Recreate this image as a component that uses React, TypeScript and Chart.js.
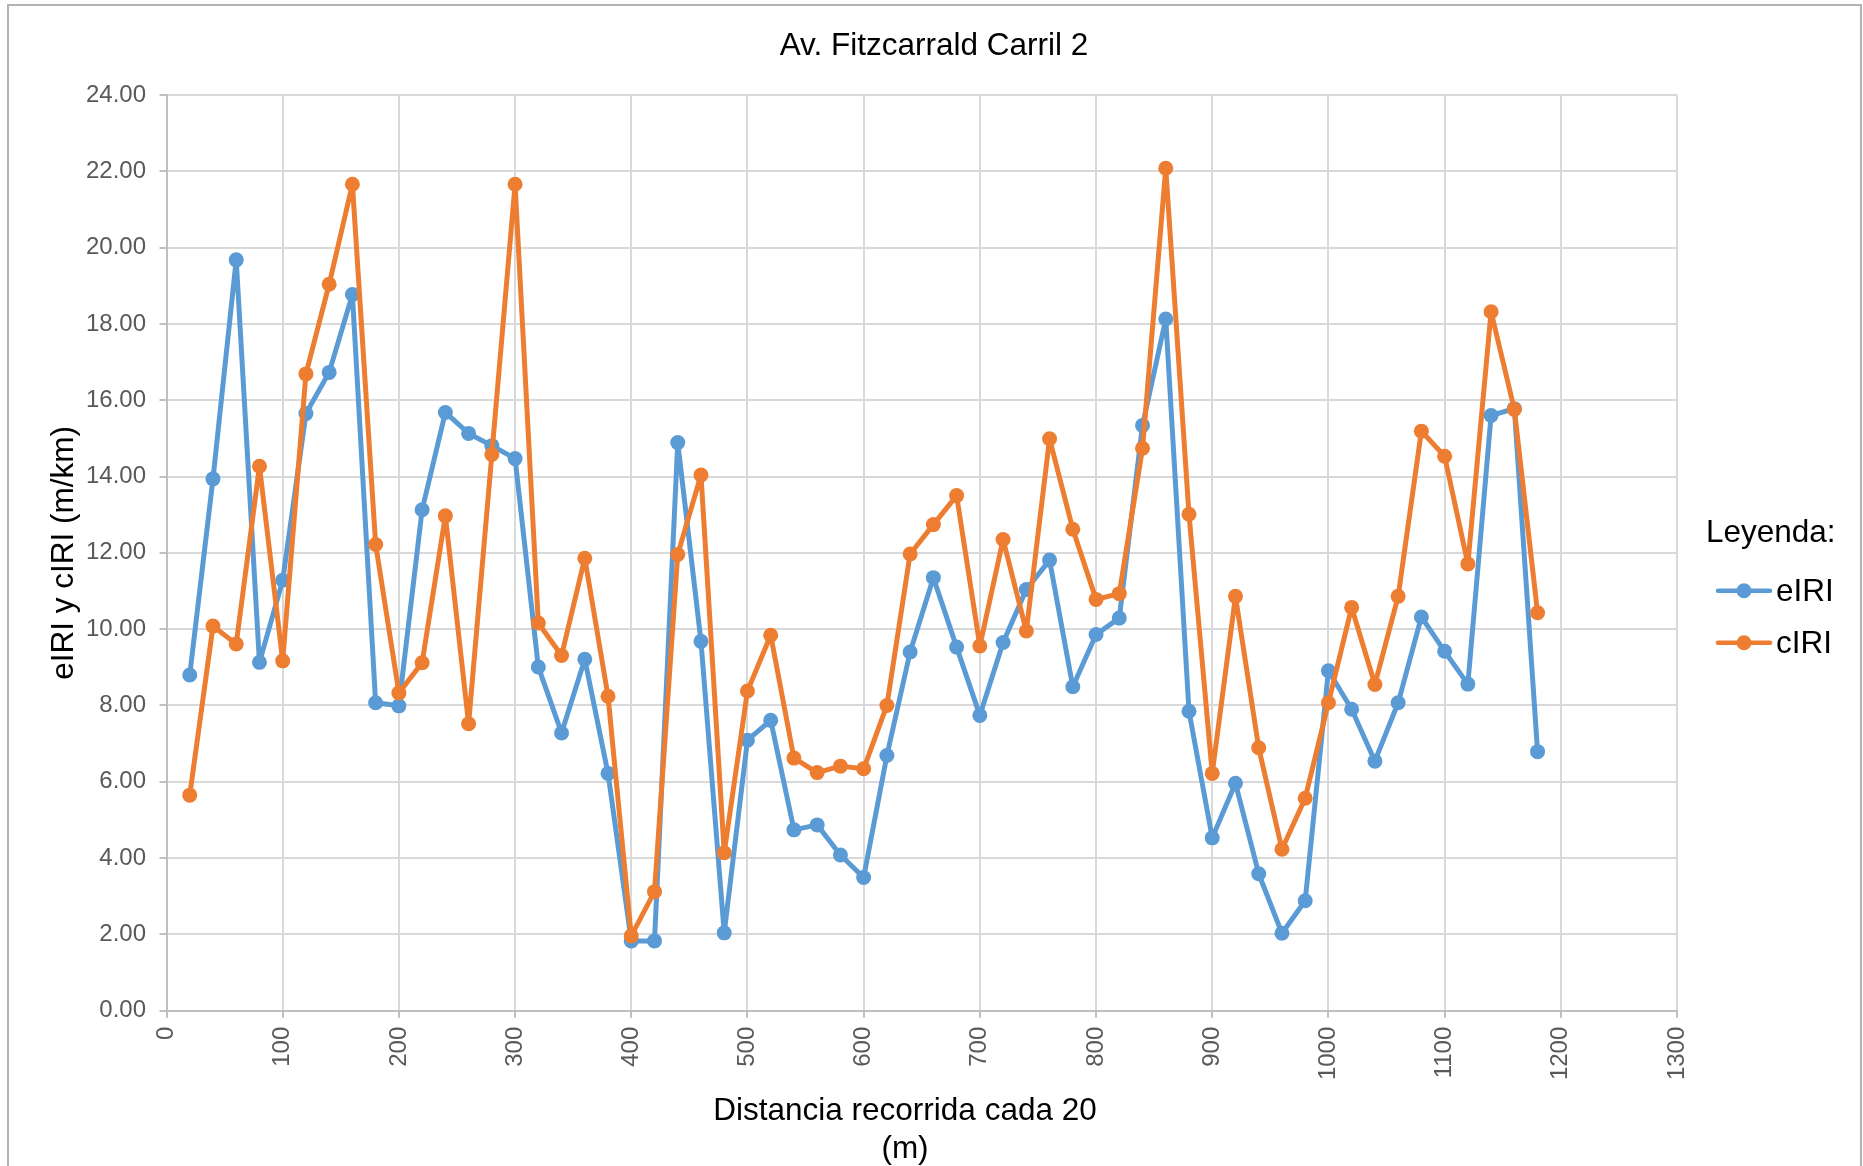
import { useEffect, useRef } from "react";
import { Chart, registerables } from "chart.js";

Chart.register(...registerables);

const FONT = '"Liberation Sans", Arial, Helvetica, sans-serif';

const chartTitle = "Av. Fitzcarrald Carril 2";
const xTitleLines = ["Distancia recorrida cada 20", "(m)"];
const yTitle = "eIRI y cIRI (m/km)";
const legendTitle = "Leyenda:";
const seriesNames = ["eIRI", "cIRI"];
const seriesColors = ["#5B9BD5", "#ED7D31"];

const distances = [
  20, 40, 60, 80, 100, 120, 140, 160, 180, 200,
  220, 240, 260, 280, 300, 320, 340, 360, 380, 400,
  420, 440, 460, 480, 500, 520, 540, 560, 580, 600,
  620, 640, 660, 680, 700, 720, 740, 760, 780, 800,
  820, 840, 860, 880, 900, 920, 940, 960, 980, 1000,
  1020, 1040, 1060, 1080, 1100, 1120, 1140, 1160, 1180,
];

const eIRI = [
  8.8, 13.94, 19.68, 9.13, 11.28, 15.65, 16.73, 18.77, 8.07, 7.99,
  13.13, 15.68, 15.13, 14.81, 14.47, 9.01, 7.28, 9.21, 6.22, 1.83,
  1.83, 14.89, 9.68, 2.04, 7.09, 7.61, 4.74, 4.87, 4.08, 3.49,
  6.69, 9.4, 11.35, 9.53, 7.74, 9.65, 11.04, 11.81, 8.49, 9.86,
  10.29, 15.34, 18.13, 7.85, 4.53, 5.96, 3.59, 2.03, 2.88, 8.91,
  7.9, 6.54, 8.07, 10.32, 9.42, 8.56, 15.6, 15.78, 6.79,
];

const cIRI = [
  5.65, 10.08, 9.61, 14.27, 9.17, 16.69, 19.04, 21.66, 12.22, 8.33,
  9.12, 12.97, 7.52, 14.58, 21.66, 10.16, 9.31, 11.86, 8.24, 1.96,
  3.12, 11.96, 14.04, 4.14, 8.38, 9.84, 6.62, 6.24, 6.41, 6.34,
  8.0, 11.97, 12.74, 13.5, 9.56, 12.35, 9.95, 14.99, 12.62, 10.78,
  10.93, 14.74, 22.08, 13.01, 6.22, 10.86, 6.89, 4.23, 5.57, 8.07,
  10.57, 8.55, 10.86, 15.19, 14.53, 11.71, 18.32, 15.76, 10.43,
];

const xMin = 0;
const xMax = 1300;
const xStep = 100;
const yMin = 0;
const yMax = 24;
const yStep = 2;

const extraText = {
  id: "extraText",
  afterDraw(chart: any) {
    const ctx = chart.ctx as CanvasRenderingContext2D;
    const area = chart.chartArea;
    ctx.save();
    ctx.fillStyle = "#000000";

    // Chart title
    ctx.font = `31.5px ${FONT}`;
    ctx.textAlign = "center";
    ctx.textBaseline = "alphabetic";
    ctx.fillText(chartTitle, 934, 55);

    // Y axis title
    ctx.save();
    ctx.font = `31.5px ${FONT}`;
    ctx.textAlign = "center";
    ctx.textBaseline = "middle";
    ctx.translate(64, (area.top + area.bottom) / 2);
    ctx.rotate(-Math.PI / 2);
    ctx.fillText(yTitle, 0, 0);
    ctx.restore();

    // X axis title (two lines)
    ctx.font = `31.5px ${FONT}`;
    ctx.textAlign = "center";
    ctx.textBaseline = "alphabetic";
    ctx.fillText(xTitleLines[0], 905, 1120);
    ctx.fillText(xTitleLines[1], 905, 1158);

    // Legend
    ctx.textAlign = "left";
    ctx.fillText(legendTitle, 1706, 542);
    const rows = [590.7, 642.7];
    for (let i = 0; i < seriesNames.length; i++) {
      const y = rows[i];
      ctx.strokeStyle = seriesColors[i];
      ctx.lineWidth = 4.5;
      ctx.lineCap = "round";
      ctx.beginPath();
      ctx.moveTo(1718, y);
      ctx.lineTo(1770, y);
      ctx.stroke();
      ctx.fillStyle = seriesColors[i];
      ctx.beginPath();
      ctx.arc(1744, y, 7.5, 0, Math.PI * 2);
      ctx.fill();
      ctx.fillStyle = "#000000";
      ctx.fillText(seriesNames[i], 1776, y + 10.5);
    }
    ctx.restore();
  },
};

export default function App() {
  const canvasRef = useRef<HTMLCanvasElement | null>(null);

  useEffect(() => {
    const canvas = canvasRef.current;
    if (!canvas) return;

    const makeData = (vals: number[]) =>
      distances.map((d, i) => ({ x: d, y: vals[i] }));

    const tickFont = { family: FONT, size: 24 };

    const lineStyle = (i: number) => ({
      label: seriesNames[i],
      borderColor: seriesColors[i],
      backgroundColor: seriesColors[i],
      pointBackgroundColor: seriesColors[i],
      pointBorderColor: seriesColors[i],
      borderWidth: 5,
      borderJoinStyle: "round",
      borderCapStyle: "round",
      pointRadius: 7.5,
      pointBorderWidth: 0,
      tension: 0,
      fill: false,
    });

    const chart = new Chart(canvas, {
      type: "line",
      data: {
        datasets: [
          { ...lineStyle(0), data: makeData(eIRI), order: 1 },
          { ...lineStyle(1), data: makeData(cIRI), order: 0 },
        ],
      },
      options: {
        responsive: false,
        animation: false,
        devicePixelRatio: 1,
        layout: { padding: { left: 0, right: 186, top: 95, bottom: 0 } },
        plugins: {
          legend: { display: false },
          tooltip: { enabled: false },
          title: { display: false },
        },
        scales: {
          x: {
            type: "linear",
            min: xMin,
            max: xMax,
            ticks: {
              stepSize: xStep,
              autoSkip: false,
              minRotation: 90,
              maxRotation: 90,
              color: "#595959",
              font: tickFont,
              padding: 9,
              callback: (v: any) => String(v),
            },
            grid: { color: "#d9d9d9", lineWidth: 2, tickColor: "#bfbfbf", tickLength: 7 },
            border: { color: "#bfbfbf", width: 2 },
            afterFit(scale: any) {
              scale.height = 155.3;
              scale.paddingLeft = 0;
              scale.paddingRight = 0;
            },
          },
          y: {
            type: "linear",
            min: yMin,
            max: yMax,
            ticks: {
              stepSize: yStep,
              color: "#595959",
              font: tickFont,
              padding: 13.5,
              callback: (v: any) => Number(v).toFixed(2),
            },
            grid: { color: "#d9d9d9", lineWidth: 2, tickColor: "#bfbfbf", tickLength: 7 },
            border: { color: "#bfbfbf", width: 2 },
            afterFit(scale: any) {
              scale.width = 166.5;
              scale.paddingTop = 0;
              scale.paddingBottom = 0;
            },
          },
        },
      } as any,
      plugins: [extraText],
    });

    return () => chart.destroy();
  }, []);

  return (
    <div
      style={{
        position: "absolute",
        left: 0,
        top: 0,
        width: 1863,
        height: 1166,
        overflow: "hidden",
        background: "#ffffff",
      }}
    >
      <canvas
        ref={canvasRef}
        width={1863}
        height={1166}
        style={{ display: "block", width: 1863, height: 1166 }}
      />
      <div
        style={{
          position: "absolute",
          left: 7,
          top: 4,
          width: 1855,
          height: 1162,
          boxSizing: "border-box",
          borderTop: "2px solid #b3b3b3",
          borderLeft: "2px solid #b3b3b3",
          borderRight: "2px solid #b3b3b3",
          pointerEvents: "none",
        }}
      />
    </div>
  );
}
